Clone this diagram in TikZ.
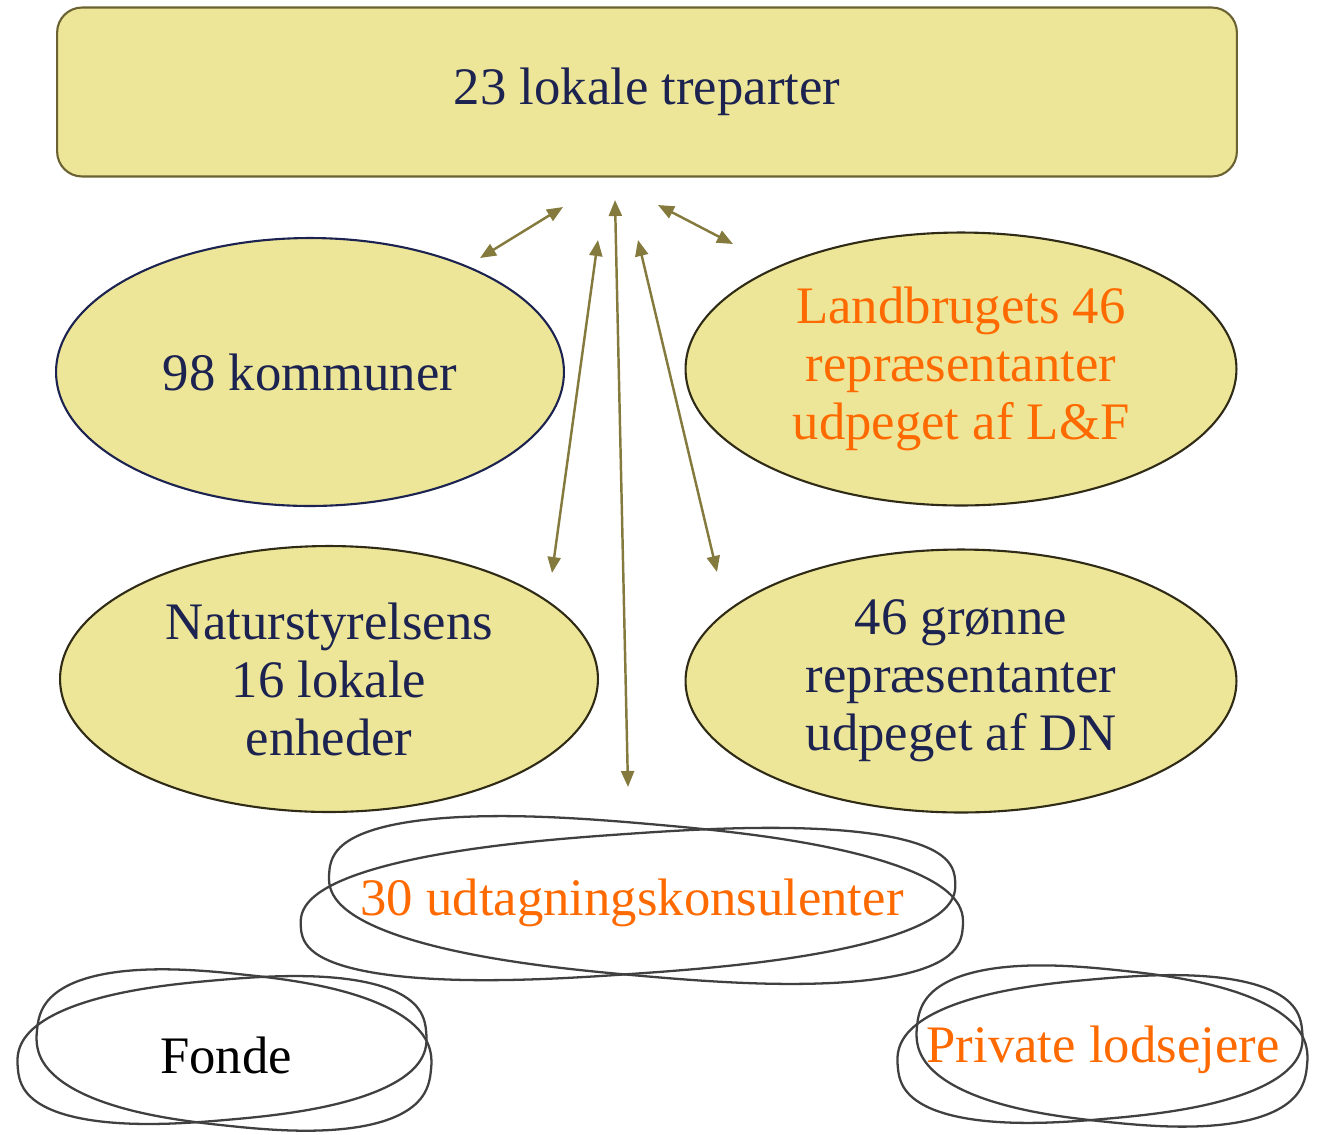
\documentclass[tikz,border=0pt]{standalone}
\usepackage{fontspec}
\setmainfont{Liberation Serif}
\usetikzlibrary{shapes.geometric,arrows.meta}
\definecolor{khaki}{HTML}{EDE698}
\definecolor{olive}{HTML}{857A3E}
\definecolor{navy}{HTML}{1C2350}
\definecolor{orng}{HTML}{FF6A00}
\definecolor{rim}{HTML}{2F2B16}
\definecolor{pencil}{HTML}{404040}
\tikzset{
  bigtxt/.style={font=\fontsize{30}{33}\selectfont, align=center, text=navy},
  blob/.style={ellipse, draw=rim, line width=1.2pt, fill=khaki, inner sep=0pt},
  pencilline/.style={draw=pencil, line width=1.3pt},
  link/.style={olive, line width=1.4pt, {Triangle[length=0.32cm,width=0.26cm]}-{Triangle[length=0.32cm,width=0.26cm]}}
}
\begin{document}
\begin{tikzpicture}[x=0.02cm, y=-0.02cm]
  \useasboundingbox (0,0) rectangle (1326,1134);

  % top box
  \node[draw=olive!80!black, line width=1.2pt, fill=khaki, rounded corners=0.5cm,
        minimum width=23.6cm, minimum height=3.38cm, bigtxt] (tre) at (647,92) {23 lokale treparter};

  % the four parties
  \node[blob, draw=navy, minimum width=10.16cm, minimum height=5.36cm, bigtxt] (kom) at (310,372) {98 kommuner};
  \node[blob, minimum width=11.02cm, minimum height=5.46cm, bigtxt, text=orng] (lf) at (961,369) {Landbrugets 46\\repræsentanter\\udpeget af L\&F};
  \node[blob, minimum width=10.76cm, minimum height=5.32cm, bigtxt] (nst) at (329,679) {Naturstyrelsens\\16 lokale\\enheder};
  \node[blob, minimum width=11.02cm, minimum height=5.26cm, bigtxt] (dn) at (961,681) {46 grønne\\repræsentanter\\udpeget af DN};

  % sketched loops
  \draw[pencilline, rotate around={-5:(646,900)}, shift={(646,900)}]
    plot[domain=2.5:357.5, samples=72, smooth cycle] ({318*cos(\x)*pow(abs(cos(\x)),-0.2)}, {76*sin(\x)*pow(abs(sin(\x)),-0.2)});
  \draw[pencilline, rotate around={4:(628,904)}, shift={(628,904)}]
    plot[domain=2.5:357.5, samples=72, smooth cycle] ({328*cos(\x)*pow(abs(cos(\x)),-0.2)}, {70*sin(\x)*pow(abs(sin(\x)),-0.2)});
  \node[bigtxt, text=orng] (kons) at (632,903) {30 udtagningskonsulenter};

  \draw[pencilline, rotate around={-6:(234,1050)}, shift={(234,1050)}]
    plot[domain=2.5:357.5, samples=72, smooth cycle] ({198*cos(\x)*pow(abs(cos(\x)),-0.2)}, {76*sin(\x)*pow(abs(sin(\x)),-0.2)});
  \draw[pencilline, rotate around={5:(222,1050)}, shift={(222,1050)}]
    plot[domain=2.5:357.5, samples=72, smooth cycle] ({205*cos(\x)*pow(abs(cos(\x)),-0.2)}, {70*sin(\x)*pow(abs(sin(\x)),-0.2)});
  \node[bigtxt, text=black] (fonde) at (226,1055) {Fonde};

  \draw[pencilline, rotate around={-6:(1112,1046)}, shift={(1112,1046)}]
    plot[domain=2.5:357.5, samples=72, smooth cycle] ({196*cos(\x)*pow(abs(cos(\x)),-0.2)}, {76*sin(\x)*pow(abs(sin(\x)),-0.2)});
  \draw[pencilline, rotate around={5:(1100,1049)}, shift={(1100,1049)}]
    plot[domain=2.5:357.5, samples=72, smooth cycle] ({203*cos(\x)*pow(abs(cos(\x)),-0.2)}, {70*sin(\x)*pow(abs(sin(\x)),-0.2)});
  \node[bigtxt, text=orng] (priv) at (1103,1050) {Private lodsejere};

  % arrow ends
  \coordinate (a1) at (480,258);
  \coordinate (b1) at (563,207);
  \coordinate (a2) at (615,200);
  \coordinate (b2) at (628,787);
  \coordinate (a3) at (598,240);
  \coordinate (b3) at (552,573);
  \coordinate (a4) at (638,240);
  \coordinate (b4) at (717,572);
  \coordinate (a5) at (658,205);
  \coordinate (b5) at (733,244);

  \draw[link] (a1) -- (b1);
  \draw[link] (a2) -- (b2);
  \draw[link] (a3) -- (b3);
  \draw[link] (a4) -- (b4);
  \draw[link] (a5) -- (b5);
\end{tikzpicture}
\end{document}
